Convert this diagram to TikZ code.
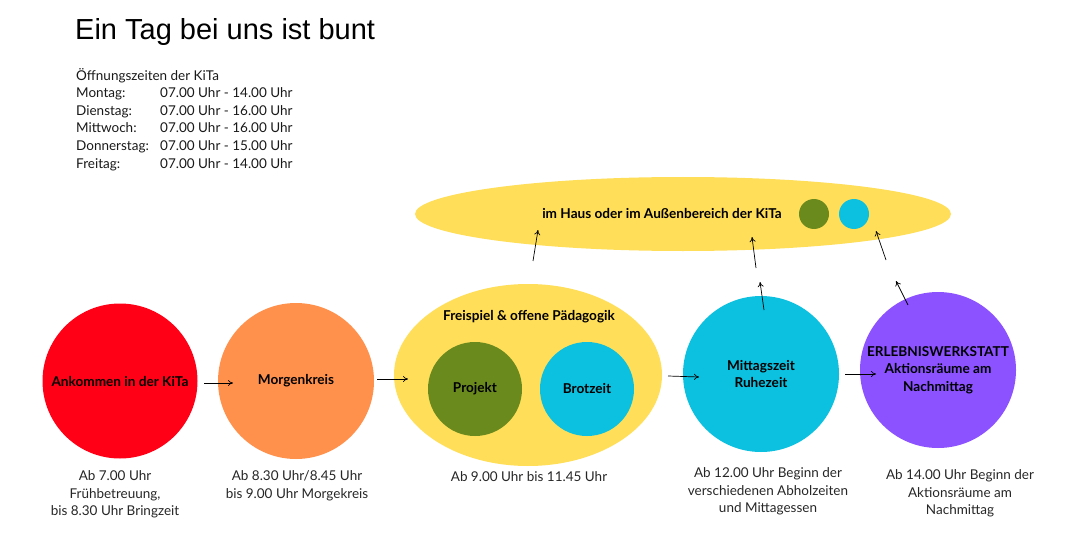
\documentclass[tikz,border=0pt]{standalone}
\usepackage{fontspec}
\setmainfont{Lato}
\newfontfamily\titlefont{Liberation Sans}
\usetikzlibrary{arrows.meta,shapes.geometric}
\definecolor{cred}{HTML}{FF0016}
\definecolor{corange}{HTML}{FF914D}
\definecolor{cyellow}{HTML}{FFDE59}
\definecolor{cgreen}{HTML}{6B8A1E}
\definecolor{ccyan}{HTML}{0CC0DF}
\definecolor{cpurple}{HTML}{8C52FF}
\begin{document}
\begin{tikzpicture}[x=1pt,y=-1pt,
  bubble/.style={circle,inner sep=0pt,minimum size=#1},
  lbl/.style={font=\bfseries\fontsize{13.6}{17.5}\selectfont,align=center,text=black},
  info/.style={font=\fontsize{13.5}{17.5}\selectfont,align=center,text=black!85},
  hours/.style={font=\fontsize{13.5}{17.5}\selectfont,anchor=base west,inner sep=0pt,text=black!90},
  arr/.style={-{To[length=5pt,width=6pt]},line width=0.7pt,black}]
\useasboundingbox (0,0) rectangle (1070,540);
\node[anchor=west,inner sep=0pt,font=\titlefont\fontsize{29}{32}\selectfont] (title) at (75,32) {Ein Tag bei uns ist bunt};
\node[hours] (h0) at (76,80.5) {Öffnungszeiten der KiTa};
\node[hours] (d1) at (76,98) {Montag:};
\node[hours] (t1) at (160,98) {07.00 Uhr - 14.00 Uhr};
\node[hours] (d2) at (76,115.5) {Dienstag:};
\node[hours] (t2) at (160,115.5) {07.00 Uhr - 16.00 Uhr};
\node[hours] (d3) at (76,133) {Mittwoch:};
\node[hours] (t3) at (160,133) {07.00 Uhr - 16.00 Uhr};
\node[hours] (d4) at (76,150.5) {Donnerstag:};
\node[hours] (t4) at (160,150.5) {07.00 Uhr - 15.00 Uhr};
\node[hours] (d5) at (76,168) {Freitag:};
\node[hours] (t5) at (160,168) {07.00 Uhr - 14.00 Uhr};
% top ellipse
\node[ellipse,fill=cyellow,inner sep=0pt,minimum width=536,minimum height=74] (top) at (683,214) {};
\node[lbl] (toplbl) at (662,214) {im Haus oder im Außenbereich der KiTa};
\node[bubble=30,fill=cgreen] (sg) at (814,214) {};
\node[bubble=30,fill=ccyan] (sc) at (854,214) {};
% main circles
\node[bubble=155,fill=cred,lbl] (ank) at (120,381) {Ankommen in der KiTa};
\node[bubble=156,fill=corange,lbl] (mk) at (296,381) {Morgenkreis};
\node[ellipse,fill=cyellow,inner sep=0pt,minimum width=268,minimum height=182] (frei) at (528,375) {};
\node[lbl] (freilbl) at (529,317) {Freispiel \& offene Pädagogik};
\node[bubble=94,fill=cgreen,lbl] (proj) at (475,389) {Projekt};
\node[bubble=94,fill=ccyan,lbl] (brot) at (587,389) {Brotzeit};
\node[bubble=156,fill=ccyan,lbl] (mit) at (761,374) {Mittagszeit\\Ruhezeit};
\node[bubble=156,fill=cpurple,lbl] (erl) at (938,370) {ERLEBNISWERKSTATT\\Aktionsräume am\\Nachmittag};
% info texts
\node[info] (i1) at (115,494.5) {Ab 7.00 Uhr\\Frühbetreuung,\\bis 8.30 Uhr Bringzeit};
\node[info] (i2) at (297,486) {Ab 8.30 Uhr/8.45 Uhr\\bis 9.00 Uhr Morgekreis};
\node[info] (i3) at (529,477) {Ab 9.00 Uhr bis 11.45 Uhr};
\node[info] (i4) at (768,491.5) {Ab 12.00 Uhr Beginn der\\verschiedenen Abholzeiten\\und Mittagessen};
\node[info] (i5) at (960,493.5) {Ab 14.00 Uhr Beginn der\\Aktionsräume am\\Nachmittag};
% arrow coordinates
\coordinate (a1s) at (204,383); \coordinate (a1e) at (233,383);
\coordinate (a2s) at (377,379); \coordinate (a2e) at (408,379);
\coordinate (a3s) at (668,376); \coordinate (a3e) at (699,377);
\coordinate (a4s) at (845,374); \coordinate (a4e) at (876,374);
\coordinate (u1s) at (533,261); \coordinate (u1e) at (538,230);
\coordinate (u2s) at (764,310); \coordinate (u2e) at (760,282);
\coordinate (u3s) at (756,268); \coordinate (u3e) at (752,237);
\coordinate (u4s) at (908,305); \coordinate (u4e) at (896,281);
\coordinate (u5s) at (886,260); \coordinate (u5e) at (876,231);
\foreach \a in {a1,a2,a3,a4,u1,u2,u3,u4,u5}
  \draw[arr] (\a s) -- (\a e);
\end{tikzpicture}
\end{document}
